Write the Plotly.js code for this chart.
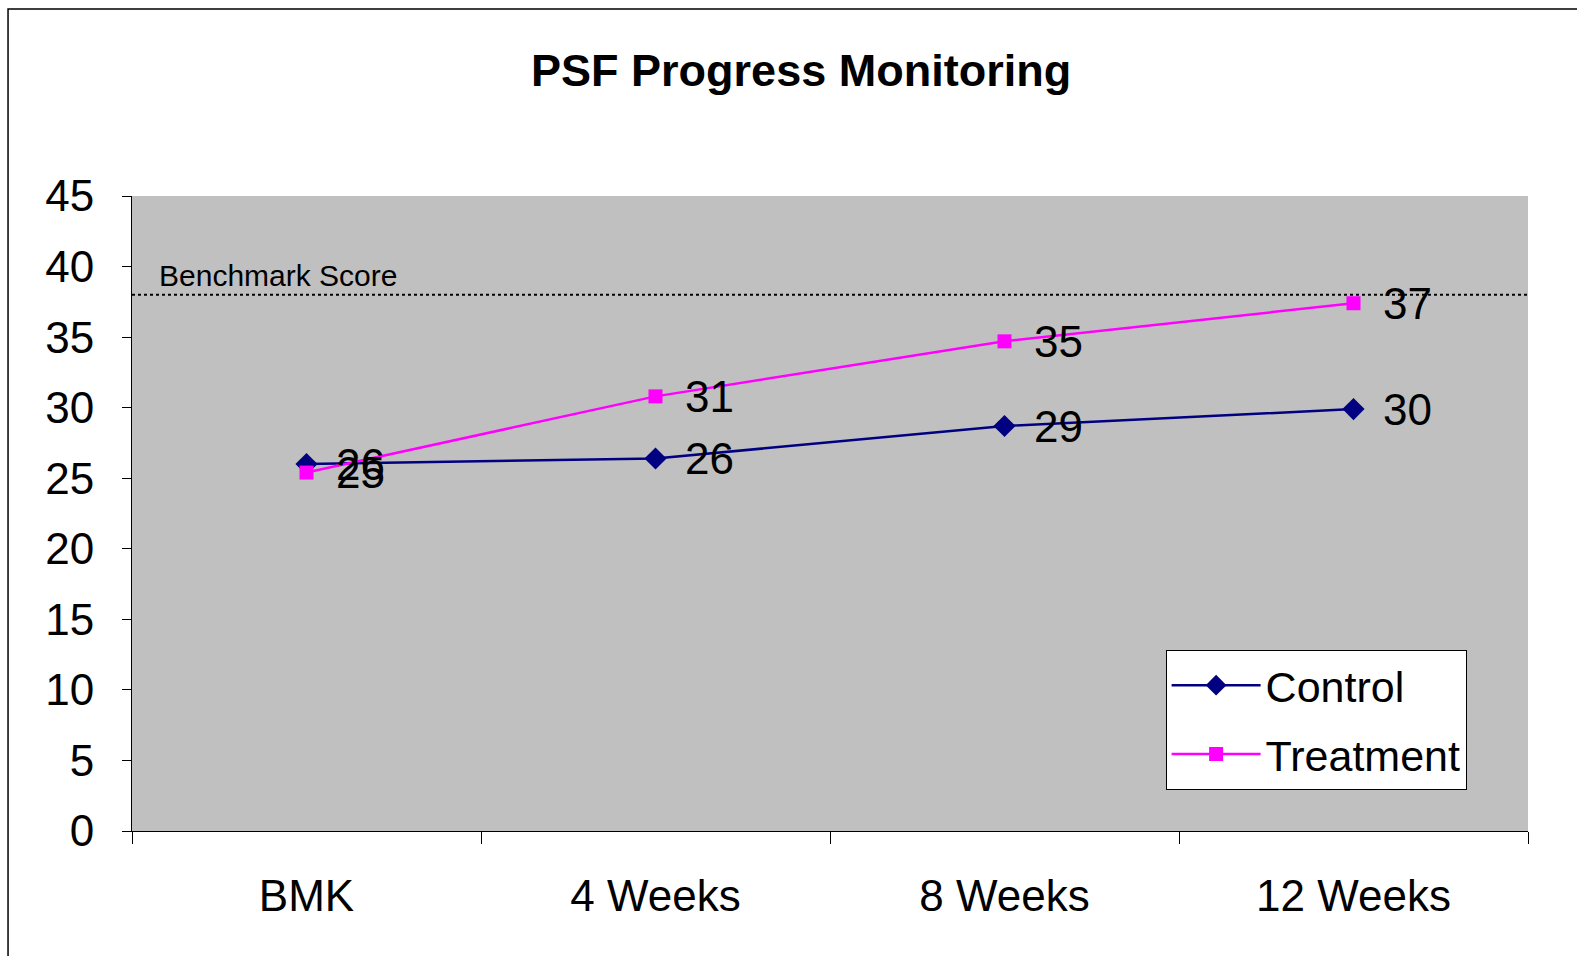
<!DOCTYPE html>
<html>
<head>
<meta charset="utf-8">
<script src="https://cdn.plot.ly/plotly-3.0.1.min.js"></script>
<style>
  html, body { margin: 0; padding: 0; background: #ffffff; }
  #chart { width: 1577px; height: 956px; }
</style>
</head>
<body>
<div id="chart"></div>
<script>
// ---- data ----
const categories = ["BMK", "4 Weeks", "8 Weeks", "12 Weeks"];
const controlValues = [26.0, 26.4, 28.7, 29.9];
const treatmentValues = [25.4, 30.8, 34.7, 37.4];
const benchmarkScore = 38;
const benchmarkLabel = "Benchmark Score";
const yTickValues = [0, 5, 10, 15, 20, 25, 30, 35, 40, 45];
const seriesNames = ["Control", "Treatment"];
const chartTitle = "PSF Progress Monitoring";

const FONT = "Liberation Sans, Arial, sans-serif";

const traces = [
  {
    x: categories, y: controlValues, name: seriesNames[0],
    type: "scatter", mode: "lines+markers",
    line: { color: "#000080", width: 2.5 },
    marker: { symbol: "diamond", size: 17, color: "#000080" },
    legendgroup: "g1"
  },
  {
    x: categories, y: treatmentValues, name: seriesNames[1],
    type: "scatter", mode: "lines+markers",
    line: { color: "#FF00FF", width: 2.5 },
    marker: { symbol: "square", size: 14, color: "#FF00FF" },
    legendgroup: "g2"
  }
];

const annotations = [];
[controlValues, treatmentValues].forEach(vals => {
  vals.forEach((v, i) => {
    annotations.push({
      x: categories[i], y: v, xref: "x", yref: "y",
      text: String(Math.round(v)), showarrow: false,
      xanchor: "left", yanchor: "middle", xshift: 27,
      font: { family: FONT, size: 44, color: "#000000" }
    });
  });
});
annotations.push({
  x: 0.018, xref: "paper", y: benchmarkScore, yref: "y",
  text: benchmarkLabel, showarrow: false,
  xanchor: "left", yanchor: "middle", yshift: 19,
  font: { family: FONT, size: 30, color: "#000000" }
});

const layout = {
  width: 1577, height: 956,
  paper_bgcolor: "#ffffff",
  plot_bgcolor: "#C0C0C0",
  margin: { l: 132, r: 49, t: 196, b: 125 },
  font: { family: FONT, color: "#000000" },
  title: {
    text: "<b>" + chartTitle + "</b>",
    font: { family: FONT, size: 45, color: "#000000" },
    x: 0.508, xref: "container", xanchor: "center",
    y: 0.926, yref: "container", yanchor: "middle"
  },
  xaxis: {
    type: "category",
    range: [-0.5, 3.5],
    tickson: "boundaries",
    ticks: "outside", ticklen: 12, tickcolor: "#000000", tickwidth: 1,
    showline: true, linecolor: "#000000", linewidth: 1,
    showgrid: false, zeroline: false,
    tickfont: { family: FONT, size: 44, color: "#000000" },
    ticklabelstandoff: 26
  },
  yaxis: {
    range: [0, 45],
    tickvals: yTickValues,
    ticks: "outside", ticklen: 9, tickcolor: "#000000", tickwidth: 1,
    showline: true, linecolor: "#000000", linewidth: 1,
    showgrid: false, zeroline: false,
    tickfont: { family: FONT, size: 44, color: "#000000" },
    ticklabelstandoff: 19
  },
  showlegend: true,
  legend: {
    x: 0.7404, y: 0.2855, xanchor: "left", yanchor: "top",
    xref: "paper", yref: "paper",
    bgcolor: "#ffffff", bordercolor: "#000000", borderwidth: 1,
    font: { family: FONT, size: 43, color: "#000000" },
    traceorder: "grouped", tracegroupgap: 10,
    itemwidth: 89
  },
  shapes: [
    {
      type: "line", xref: "paper", x0: 0, x1: 1,
      yref: "y", y0: benchmarkScore, y1: benchmarkScore,
      line: { color: "#000000", width: 2, dash: "dot" }
    },
    {
      type: "rect", xref: "paper", yref: "paper",
      x0: -0.0888, x1: 1.2, y0: -0.4, y1: 1.2945,
      line: { color: "#000000", width: 1.5 },
      fillcolor: "rgba(0,0,0,0)", layer: "above"
    }
  ],
  annotations: annotations,
  hovermode: false
};

Plotly.newPlot("chart", traces, layout, { staticPlot: true, displayModeBar: false });
</script>
</body>
</html>
